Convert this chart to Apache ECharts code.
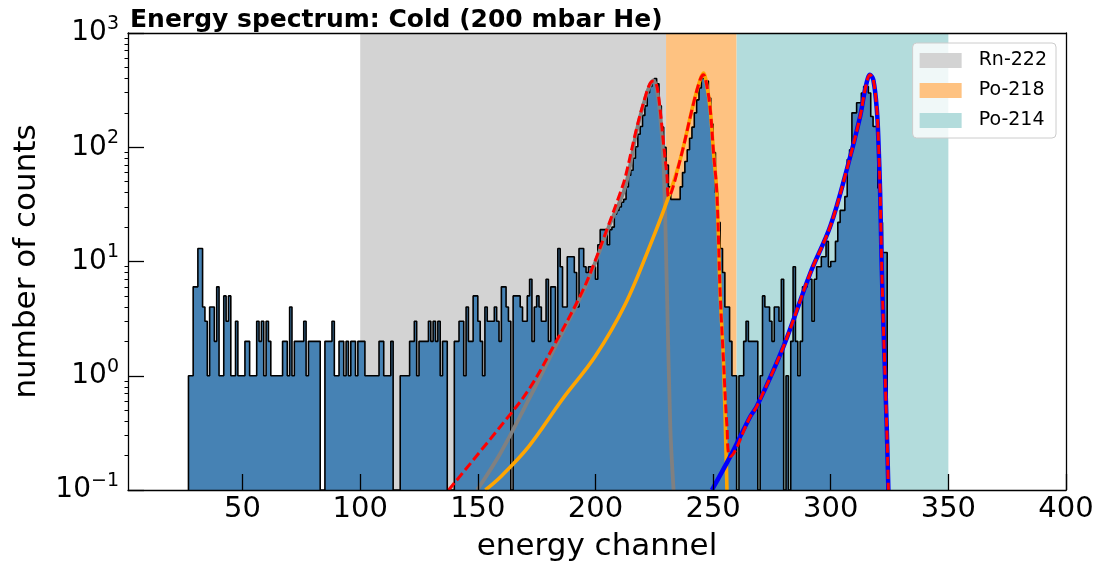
<!DOCTYPE html>
<html><head><meta charset="utf-8">
<script src="https://cdn.jsdelivr.net/npm/echarts@6/dist/echarts.min.js"></script>
<style>html,body{margin:0;padding:0;background:#fff}#c{width:1098px;height:571px}</style>
</head><body><div id="c"></div>
<script>
// ---------------- data ----------------
const FIRST_BIN = 27;   // left edge (channel) of the first histogram bin
const BIN_WIDTH = 1;
const counts = [
  1,1,6,6,13,13,4,3,1,4,
  4,2,6,1,1,5,3,5,1,1,
  3,1,1,1,2,2,1,1,1,3,
  2,3,1,3,2,1,1,1,1,1,
  2,2,1,4,1,2,2,2,2,3,
  1,2,2,2,2,2,0,0,2,2,
  2,3,1,1,2,2,1,2,1,2,
  2,1,2,2,2,1,1,1,1,1,
  1,2,2,1,1,1,2,0,0,0,
  1,1,1,1,2,2,3,1,2,2,
  2,2,3,2,3,2,3,1,2,2,
  0,0,0,2,2,3,3,1,4,2,
  2,5,5,3,2,1,4,3,3,3,
  4,3,2,6,6,4,3,0,5,5,
  5,4,3,3,5,7,2,4,5,4,
  3,3,7,2,6,6,2,13,9,4,
  4,11,11,11,8,4,13,13,9,8,
  9,9,9,7,14,19,19,19,14,19,
  20,26,28,30,33,35,45,57,63,80,
  101,130,152,190,230,300,340,380,400,360,
  230,150,100,70,45,35,35,35,35,45,
  60,75,95,120,150,200,260,330,400,410,
  380,270,160,90,40,22,13,8,4,4,
  2,1,1,0,1,1,2,3,2,2,
  2,2,0,1,5,4,4,3,2,4,
  4,3,7,0,1,0,2,9,2,1,
  2,6,6,7,7,3,7,9,9,11,
  11,15,9,10,10,15,22,28,28,37,
  78,95,200,200,245,245,298,340,340,298,
  186,152,152,44,22,12,12
];
const spanNames = ['Rn-222', 'Po-218', 'Po-214'];
const spanFrom  = [100, 230, 260];
const spanTo    = [230, 260, 350];

const totalFit = [[137.6,0.1],[159.6,0.36],[171.6,0.754],[182.9,1.93],[194.3,5.4],[199.9,10.2],[205.6,21],[210.5,39.8],[212.7,55],[217.6,150],[221.2,278],[223.3,365],[224.7,380],[226.1,341],[227.5,213],[228.9,109],[230.4,55.5],[231.1,37],[236,77.8],[241.7,244],[244.5,391],[245.9,431],[247.4,341],[248.8,213],[250.2,89],[251.6,39.7],[253,5.3],[254.4,1.38],[255.9,0.36],[257.3,0.197],[265.8,0.44],[268.6,0.54],[279.9,1.8],[291.3,7.9],[299.8,20.3],[306.8,63.5],[312.5,186],[314.6,319],[316.7,431],[318.1,390],[319.6,213],[320.3,109],[321,39.7],[321.6,10.4],[322.4,2.7],[323.8,0.36],[324.5,0.1]];
const rnFit = [[149.7,0.1],[159.6,0.21],[171.6,0.617],[185.8,2.36],[194.3,5.2],[199.9,9.8],[205.6,20],[212.7,45.4],[217.6,142],[221.2,270],[223.3,355],[224.7,385],[226.1,320],[227.5,188],[228.9,78],[230.4,5.3],[231.8,0.36],[233.2,0.1]];
const po218Fit = [[153.2,0.1],[159.6,0.13],[171.6,0.24],[185.8,0.617],[199.9,1.48],[212.6,4.2],[223.3,14],[231.1,37],[236,77.8],[241.7,244],[244.5,391],[245.9,446],[247.4,341],[248.8,213],[250.2,89],[251.6,39.7],[253,5.3],[254.4,1.38],[255.9,0.1]];
const po214Fit = [[249.5,0.1],[257.3,0.197],[265.8,0.44],[268.6,0.54],[279.9,1.8],[291.3,7.9],[299.8,20.3],[306.8,63.5],[312.5,186],[314.6,319],[316.7,431],[318.1,390],[319.6,213],[320.3,109],[321,39.7],[321.6,10.4],[322.4,2.7],[323.8,0.36],[324.5,0.1]];

const xTicks = [50,100,150,200,250,300,350,400];
const yTicks = [0.1,1,10,100,1000];
const yExponents = ['\u22121','0','1','2','3'];
const yMinorTicks = [0.2,0.3,0.4,0.5,0.6,0.7,0.8,0.9,2,3,4,5,6,7,8,9,20,30,40,50,60,70,80,90,200,300,400,500,600,700,800,900];

// ---------------- styling ----------------
const FONT = 'DejaVu Sans';
const X_MIN = 1.3, X_MAX = 400, Y_MIN = 0.1, Y_MAX = 1000;
const spanColors = ['#d3d3d3', '#fec281', '#b3dcdc'];

// histogram outline points (zero-count bins drop to the axis floor)
const histData = [[FIRST_BIN, Y_MIN]];
counts.forEach((v, i) => histData.push([FIRST_BIN + i * BIN_WIDTH, v > 0 ? v : Y_MIN]));
histData.push([FIRST_BIN + counts.length * BIN_WIDTH, Y_MIN]);

const spanSeries = spanNames.map((n, i) => ({
  name: n, type: 'line', data: [[X_MIN, Y_MIN]], symbol: 'none', silent: true, z: 1,
  lineStyle: { opacity: 0 }, itemStyle: { color: spanColors[i] },
  markArea: { silent: true, itemStyle: { color: spanColors[i] },
    data: [[{ xAxis: spanFrom[i] }, { xAxis: spanTo[i] }]] }
}));

function fitSeries(name, data, color, width, type, z) {
  return { name, type: 'line', data, symbol: 'none', showSymbol: false, smooth: 0.35,
    silent: true, z, clip: true,
    lineStyle: { color, width, type, cap: 'butt' } };
}

const chart = echarts.init(document.getElementById('c'), null, { renderer: 'canvas' });
chart.setOption({
  animation: false,
  backgroundColor: '#fff',
  title: { text: 'Energy spectrum: Cold (200 mbar He)', left: 125, top: 3,
    textStyle: { fontFamily: FONT, fontWeight: 'bold', fontSize: 25, color: '#000' } },
  legend: {
    data: spanNames, orient: 'vertical', right: 42, top: 43,
    icon: 'rect', itemWidth: 42, itemHeight: 15, itemGap: 11,
    padding: [8, 9, 8, 7],
    backgroundColor: 'rgba(255,255,255,0.8)', borderColor: '#cccccc', borderWidth: 1, borderRadius: 4,
    itemStyle: { borderWidth: 0 },
    textStyle: { fontFamily: FONT, fontSize: 19, color: '#000', padding: [0, 0, 0, 12] },
    selectedMode: false
  },
  grid: { left: 128, right: 32, top: 33, bottom: 81, containLabel: false },
  xAxis: [
    { type: 'value', min: X_MIN, max: X_MAX, position: 'bottom', z: 10,
      name: 'energy channel', nameLocation: 'middle', nameGap: 41,
      nameTextStyle: { fontFamily: FONT, fontSize: 31, color: '#000' },
      axisLine: { show: true, lineStyle: { color: '#000', width: 1.3 } },
      axisTick: { show: true, inside: true, length: 16, customValues: xTicks, lineStyle: { color: '#000', width: 1.3 } },
      axisLabel: { customValues: xTicks, margin: 5, fontFamily: FONT, fontSize: 29, color: '#000' },
      splitLine: { show: false } },
    { type: 'value', min: X_MIN, max: X_MAX, position: 'top', z: 10,
      axisLine: { show: true, onZero: false, lineStyle: { color: '#000', width: 1.3 } },
      axisTick: { show: false }, axisLabel: { show: false }, splitLine: { show: false } }
  ],
  yAxis: [
    { type: 'log', logBase: 10, min: Y_MIN, max: Y_MAX, position: 'left', z: 10,
      name: 'number of counts', nameLocation: 'middle', nameGap: 86,
      nameTextStyle: { fontFamily: FONT, fontSize: 31, color: '#000' },
      axisLine: { show: true, onZero: false, lineStyle: { color: '#000', width: 1.3 } },
      axisTick: { show: true, inside: true, length: 16, customValues: yTicks, lineStyle: { color: '#000', width: 1.3 } },
      axisLabel: { customValues: yTicks, margin: 9,
        formatter: v => { let k = 0; yTicks.forEach((t, i) => { if (Math.abs(t - v) / t < 1e-6) k = i; });
          return '{b|10}{s|' + yExponents[k] + '}'; },
        rich: { b: { fontFamily: FONT, fontSize: 28, color: '#000' },
                s: { fontFamily: FONT, fontSize: 19, color: '#000', padding: [0, 0, 18, 0] } } },
      splitLine: { show: false } },
    { type: 'log', logBase: 10, min: Y_MIN, max: Y_MAX, position: 'left', z: 10,
      axisLine: { show: false }, axisLabel: { show: false }, splitLine: { show: false },
      axisTick: { show: true, inside: false, length: 3.5, customValues: yMinorTicks, lineStyle: { color: '#000', width: 1 } } },
    { type: 'log', logBase: 10, min: Y_MIN, max: Y_MAX, position: 'right', z: 10,
      axisLine: { show: true, onZero: false, lineStyle: { color: '#000', width: 1.3 } },
      axisTick: { show: false }, axisLabel: { show: false }, splitLine: { show: false } }
  ],
  series: [
    ...spanSeries,
    { name: 'histogram', type: 'line', step: 'end', data: histData, symbol: 'none', silent: true, z: 2,
      lineStyle: { color: '#000', width: 1.6 },
      areaStyle: { color: '#4682b4', opacity: 1, origin: 'start' } },
    fitSeries('Rn-222 fit', rnFit, '#808080', 3.8, 'solid', 3),
    fitSeries('Po-218 fit', po218Fit, '#ffa500', 3.6, 'solid', 3),
    fitSeries('Po-214 fit', po214Fit, '#0000ff', 4.5, 'solid', 3),
    fitSeries('total fit', totalFit, '#ff0000', 3, [9, 4], 4)
  ]
});
</script></body></html>
